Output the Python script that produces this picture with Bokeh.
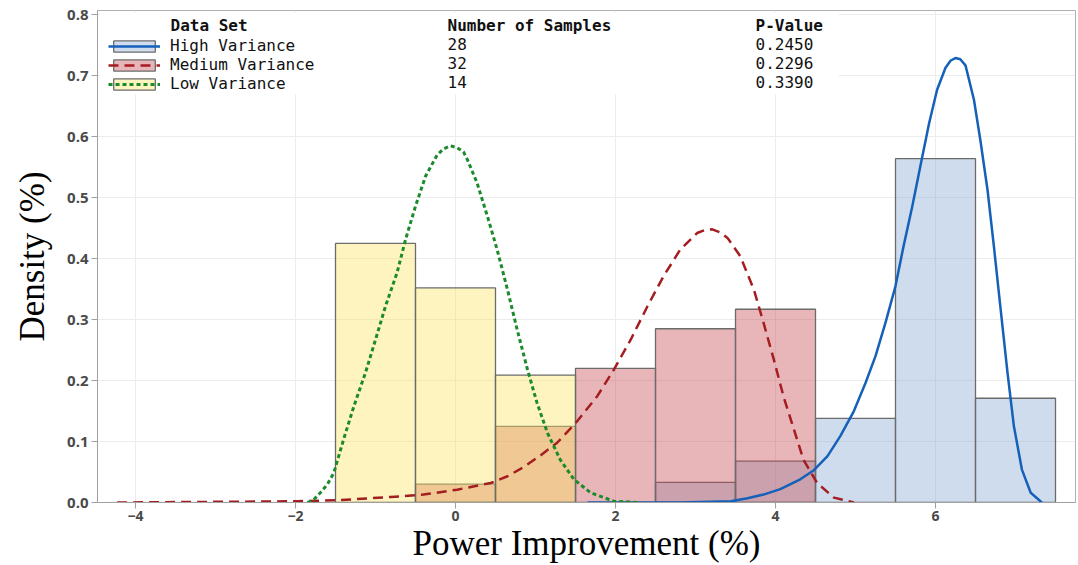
from bokeh.plotting import figure
from bokeh.models import (Legend, LegendItem, Label, BoxAnnotation, FixedTicker,
                          NumeralTickFormatter, Range1d)
from bokeh.embed import file_html
from bokeh.resources import INLINE

# ---------------- data ----------------
series_names = ["High Variance", "Medium Variance", "Low Variance"]
sample_counts = ["28", "32", "14"]
p_values = ["0.2450", "0.2296", "0.3390"]
header = ["Data Set", "Number of Samples", "P-Value"]

bin_width = 1.0
high_bins = [3, 4, 5, 6, 7]
high_density = [0.033, 0.068, 0.138, 0.564, 0.171]
med_bins = [0, 1, 2, 3, 4]
med_density = [0.030, 0.125, 0.220, 0.285, 0.317]
low_bins = [-1, 0, 1]
low_density = [0.425, 0.352, 0.209]

high_curve_x = [1.65, 2.81, 3.44, 3.65, 3.85, 4.06, 4.31, 4.48, 4.65, 4.81, 4.98, 5.125,
                5.25, 5.375, 5.50, 5.60, 5.71, 5.81, 5.92, 6.02, 6.125, 6.19, 6.25, 6.31, 6.375,
                6.48, 6.56, 6.65, 6.73, 6.81, 6.90, 6.98, 7.08, 7.19, 7.33]
high_curve_y = [0.0, 0.0, 0.002, 0.007, 0.013, 0.022, 0.038, 0.053, 0.076, 0.109, 0.150, 0.196,
                0.240, 0.295, 0.355, 0.420, 0.486, 0.551, 0.622, 0.677, 0.713, 0.725, 0.729, 0.727, 0.717,
                0.661, 0.595, 0.513, 0.420, 0.322, 0.213, 0.125, 0.054, 0.016, 0.0]

med_curve_x = [-4.23, -1.98, -1.44, -0.81, -0.40, 0.02, 0.44, 0.65, 0.85, 1.06, 1.27, 1.50, 1.77,
               1.98, 2.19, 2.40, 2.60, 2.81, 3.02, 3.12, 3.21, 3.31, 3.40, 3.56, 3.73, 3.85, 3.98,
               4.10, 4.23, 4.35, 4.52, 4.73, 4.98]
med_curve_y = [0.0, 0.002, 0.004, 0.009, 0.013, 0.021, 0.032, 0.043, 0.058, 0.077, 0.098, 0.130, 0.174,
               0.218, 0.267, 0.322, 0.371, 0.415, 0.442, 0.447, 0.448, 0.443, 0.434, 0.404, 0.349, 0.295,
               0.234, 0.174, 0.120, 0.070, 0.032, 0.008, 0.0]

low_curve_x = [-1.85, -1.77, -1.69, -1.60, -1.52, -1.40, -1.27, -1.125, -1.0, -0.875, -0.73,
               -0.625, -0.5, -0.375, -0.23, -0.15, -0.06, 0.02, 0.10, 0.15, 0.27, 0.40, 0.52,
               0.65, 0.77, 0.90, 1.02, 1.15, 1.31, 1.48, 1.69, 1.98, 2.30]
low_curve_y = [0.0, 0.005, 0.016, 0.030, 0.049, 0.103, 0.158, 0.213, 0.267, 0.322, 0.377,
               0.431, 0.486, 0.535, 0.570, 0.580, 0.585, 0.582, 0.575, 0.562, 0.524, 0.469, 0.415,
               0.349, 0.284, 0.218, 0.163, 0.114, 0.070, 0.038, 0.016, 0.002, 0.0]

x_ticks = [-4, -2, 0, 2, 4, 6]
y_ticks = [0.0, 0.1, 0.2, 0.3, 0.4, 0.5, 0.6, 0.7, 0.8]

# ---------------- styles ----------------
BLUE_FILL, RED_FILL, YEL_FILL = "#87a8d5", "#c6494e", "#fae45f"
BLUE_LINE, RED_LINE, GREEN_LINE = "#1560b8", "#a31d21", "#1b8a2b"
EDGE = "#6b6b6b"
MONO = "DejaVu Sans Mono"

p = figure(width=1078, height=565, x_range=Range1d(-4.475, 7.75), y_range=Range1d(0, 0.807),
           output_backend="svg", toolbar_location=None,
           min_border_left=97, min_border_right=3, min_border_top=10, min_border_bottom=62)
p.background_fill_color = "white"
p.border_fill_color = "white"
p.outline_line_color = "#b0b0b0"
p.xgrid.grid_line_color = "#ececec"
p.ygrid.grid_line_color = "#ececec"

p.xaxis.ticker = FixedTicker(ticks=x_ticks)
p.yaxis.ticker = FixedTicker(ticks=y_ticks)
p.yaxis.formatter = NumeralTickFormatter(format="0.0")
for ax in (p.xaxis, p.yaxis):
    ax.axis_line_color = "#a0a0a0"
    ax.major_tick_line_color = "#a0a0a0"
    ax.minor_tick_line_color = None
    ax.major_tick_out = 6
    ax.major_tick_in = 0
    ax.major_label_text_font = "Open Sans"
    ax.major_label_text_font_style = "bold"
    ax.major_label_text_font_size = "14px"
    ax.major_label_text_color = "#4a4a4a"
    ax.axis_label_text_font = "Liberation Serif"
    ax.axis_label_text_font_style = "normal"
    ax.axis_label_text_font_size = "35px"
    ax.axis_label_text_color = "black"
p.yaxis.major_label_text_font_size = "15px"
p.xaxis.axis_label = "Power Improvement (%)"
p.yaxis.axis_label = "Density (%)"
p.xaxis.major_label_standoff = 2
p.xaxis.axis_label_standoff = 0
p.yaxis.major_label_standoff = 3
p.yaxis.axis_label_standoff = 12

hb = p.vbar(x=high_bins, top=high_density, width=bin_width, bottom=0,
            fill_color=BLUE_FILL, fill_alpha=0.4, line_color=EDGE, line_width=1.3)
mb = p.vbar(x=med_bins, top=med_density, width=bin_width, bottom=0,
            fill_color=RED_FILL, fill_alpha=0.4, line_color=EDGE, line_width=1.3)
lb = p.vbar(x=low_bins, top=low_density, width=bin_width, bottom=0,
            fill_color=YEL_FILL, fill_alpha=0.4, line_color=EDGE, line_width=1.3)

hl = p.line(high_curve_x, high_curve_y, line_color=BLUE_LINE, line_width=2.5, line_join="round")
ml = p.line(med_curve_x, med_curve_y, line_color=RED_LINE, line_width=2.5, line_dash="10 6",
            line_join="round")
ll = p.line(low_curve_x, low_curve_y, line_color=GREEN_LINE, line_width=3, line_dash="4 3",
            line_join="round")

# legend background
bg = BoxAnnotation(left=3, right=741, top=490, bottom=408,
                   left_units="screen", right_units="screen", top_units="screen", bottom_units="screen",
                   fill_color="white", fill_alpha=1.0, line_color=None)
p.add_layout(bg)

legend = Legend(items=[LegendItem(label=series_names[0], renderers=[hb, hl]),
                       LegendItem(label=series_names[1], renderers=[mb, ml]),
                       LegendItem(label=series_names[2], renderers=[lb, ll])],
                location=(11, 409), glyph_width=52, glyph_height=14, label_standoff=10,
                spacing=0, padding=0, margin=0, border_line_color=None, background_fill_alpha=0,
                label_text_font=MONO, label_text_font_size="16px", label_height=19,
                label_text_color="#111111")
p.add_layout(legend)

col_x = [73, 350, 658]
for cx, txt in zip(col_x, header):
    p.add_layout(Label(x=cx, y=477, x_units="screen", y_units="screen", text=txt,
                       text_font=MONO, text_font_style="bold", text_font_size="16px",
                       text_baseline="middle", text_color="#111111"))
row_y = [459, 440, 421]
for ry, n, pv in zip(row_y, sample_counts, p_values):
    p.add_layout(Label(x=col_x[1], y=ry, x_units="screen", y_units="screen", text=n,
                       text_font=MONO, text_font_size="16px", text_baseline="middle",
                       text_color="#111111"))
    p.add_layout(Label(x=col_x[2], y=ry, x_units="screen", y_units="screen", text=pv,
                       text_font=MONO, text_font_size="16px", text_baseline="middle",
                       text_color="#111111"))

open("out.html", "w").write(file_html(p, INLINE))
